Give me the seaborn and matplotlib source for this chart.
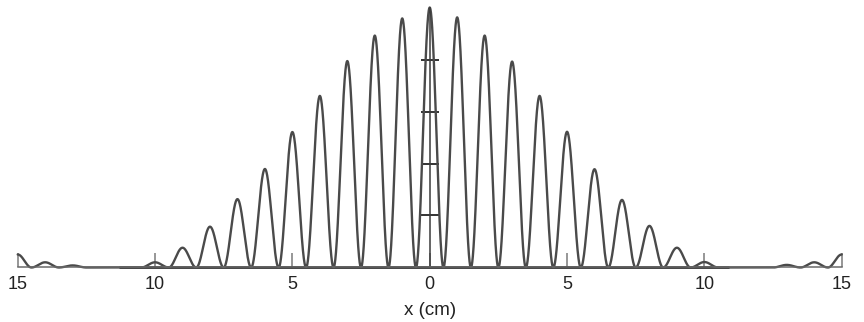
import numpy as np
import pandas as pd
import matplotlib
matplotlib.use("Agg")
import matplotlib.pyplot as plt
import seaborn as sns

# Fringe orders and their peak intensities (relative to the central maximum)
orders = list(range(-15, 16))
peak_heights = [0.05, 0.02, 0.008, 0.0, 0.0, 0.02, 0.076, 0.157, 0.263, 0.379,
                0.521, 0.66, 0.794, 0.892, 0.958, 1.0, 0.962, 0.892, 0.792, 0.66,
                0.522, 0.378, 0.26, 0.16, 0.076, 0.021, 0.0, 0.0, 0.01, 0.02, 0.05]
tick_positions = [-15, -10, -5, 0, 5, 10, 15]
tick_labels = ["15", "10", "5", "0", "5", "10", "15"]
scale_marks = [0.2, 0.4, 0.6, 0.8]

# Each bright fringe is a cos^2 lobe centred on its order, scaled to its peak
height_of = dict(zip(orders, peak_heights))
x = np.linspace(-15, 15, 9001)
nearest = np.clip(np.rint(x).astype(int), -15, 15)
intensity = np.array([height_of[n] for n in nearest]) * np.cos(np.pi * x) ** 2
df = pd.DataFrame({"x": x, "I": intensity})

sns.set_style("white")
plt.rcParams["font.family"] = ["Liberation Sans", "DejaVu Sans"]

fig = plt.figure(figsize=(8.64, 3.22), dpi=100)
ax = fig.add_axes([0.0205, 0.1289, 0.9537, 0.8639])

sns.lineplot(data=df, x="x", y="I", ax=ax, color="#4a4a4a", linewidth=1.7,
             sort=False, clip_on=False)

ax.set_xlim(-15, 15)
ax.set_ylim(-0.05, 1.02)

# Baseline along the x axis
for side in ["top", "right"]:
    ax.spines[side].set_visible(False)
ax.spines["bottom"].set_position(("data", 0))
ax.spines["bottom"].set_bounds(-15, 15)
ax.spines["bottom"].set_color("#6a6a6a")
ax.spines["bottom"].set_linewidth(1.1)
ax.hlines(0, -11.3, 10.9, color="#222222", linewidth=1.9, zorder=1)

# Vertical intensity axis through the centre with its scale marks
ax.spines["left"].set_position(("data", 0))
ax.spines["left"].set_bounds(0, 1.0)
ax.spines["left"].set_color("#3a3a3a")
ax.spines["left"].set_linewidth(1.1)
ax.set_yticks(scale_marks)
ax.set_yticklabels([])
ax.tick_params(axis="y", direction="inout", length=13.4, width=1.4,
               color="#333333", left=True)

ax.set_xticks(tick_positions)
ax.set_xticklabels(tick_labels)
ax.tick_params(axis="x", direction="in", length=9.8, width=1.1,
               color="#7a7a7a", labelsize=13, pad=6, labelcolor="#222222",
               bottom=True)
ax.set_xlabel("x (cm)", fontsize=13.5, labelpad=6.5, color="#222222")
ax.set_ylabel("")

fig.savefig("out.png", dpi=100, facecolor="white")
